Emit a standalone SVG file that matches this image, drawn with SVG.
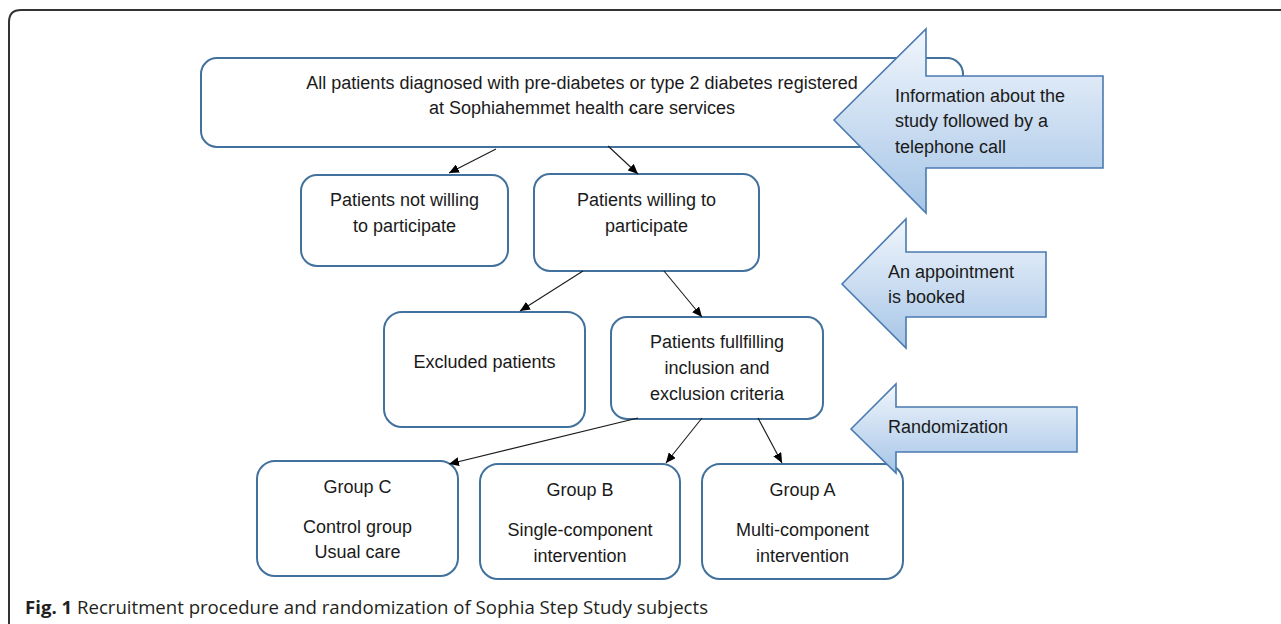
<svg xmlns="http://www.w3.org/2000/svg" width="1281" height="624" viewBox="0 0 1281 624">
<defs>
<linearGradient id="bg" x1="0" y1="0" x2="0" y2="1">
<stop offset="0" stop-color="#f1f6fc"/>
<stop offset="1" stop-color="#a6c5e7"/>
</linearGradient>
<marker id="ah" markerUnits="userSpaceOnUse" markerWidth="11" markerHeight="9" refX="10" refY="4.5" orient="auto">
<path d="M0,0 L10,4.5 L0,9 z" fill="#000"/>
</marker>
<style>
.box{fill:#fff;stroke:#41719c;stroke-width:2}
.big{fill:url(#bg);stroke:#4a7ab0;stroke-width:1.6}
.t{font-family:"Liberation Sans",Arial,sans-serif;font-size:18px;fill:#1a1a1a}
.c{text-anchor:middle}
.con{stroke:#1a1a1a;stroke-width:1.1;fill:none;marker-end:url(#ah)}
.cap{font-family:"Open Sans","Liberation Sans",sans-serif;font-size:18.6px;fill:#231f20}
</style>
</defs>
<rect width="1281" height="624" fill="#fff"/>
<path d="M9,624 V22 Q9,10 21,10 H1281" fill="none" stroke="#333" stroke-width="2"/>

<g id="n-all">
<rect class="box" x="201" y="58" width="762" height="89" rx="16"/>
<text class="t c" x="582" y="89">All patients diagnosed with pre-diabetes or type 2 diabetes registered</text>
<text class="t c" x="582" y="114">at Sophiahemmet health care services</text>
</g>
<g id="n-info">
<polygon class="big" points="834,120 926,29 926,76 1103,76 1103,168 926,168 926,213"/>
<text class="t" x="895" y="102">Information about the</text>
<text class="t" x="895" y="127">study followed by a</text>
<text class="t" x="895" y="153">telephone call</text>
</g>
<g id="n-notwilling">
<rect class="box" x="301" y="175" width="207" height="91" rx="16"/>
<text class="t c" x="404.5" y="206">Patients not willing</text>
<text class="t c" x="404.5" y="232">to participate</text>
</g>
<g id="n-willing">
<rect class="box" x="534" y="174" width="225" height="97" rx="16"/>
<text class="t c" x="646.5" y="206">Patients willing to</text>
<text class="t c" x="646.5" y="232">participate</text>
</g>
<g id="n-appt">
<polygon class="big" points="842,284 906,219 906,252 1046,252 1046,317 906,317 906,348"/>
<text class="t" x="888" y="278">An appointment</text>
<text class="t" x="888" y="303">is booked</text>
</g>
<g id="n-excluded">
<rect class="box" x="384" y="312" width="201" height="115" rx="18"/>
<text class="t c" x="484.5" y="368">Excluded patients</text>
</g>
<g id="n-fulfil">
<rect class="box" x="611" y="317" width="212" height="102" rx="16"/>
<text class="t c" x="717" y="348">Patients fullfilling</text>
<text class="t c" x="717" y="374">inclusion and</text>
<text class="t c" x="717" y="400">exclusion criteria</text>
</g>
<g id="n-groupC">
<rect class="box" x="257" y="461" width="201" height="115" rx="18"/>
<text class="t c" x="357.5" y="493">Group C</text>
<text class="t c" x="357.5" y="533">Control group</text>
<text class="t c" x="357.5" y="558">Usual care</text>
</g>
<g id="n-groupB">
<rect class="box" x="480" y="464" width="200" height="115" rx="18"/>
<text class="t c" x="580" y="496">Group B</text>
<text class="t c" x="580" y="536">Single-component</text>
<text class="t c" x="580" y="562">intervention</text>
</g>
<g id="n-groupA">
<rect class="box" x="702" y="464" width="201" height="115" rx="18"/>
<text class="t c" x="802.5" y="496">Group A</text>
<text class="t c" x="802.5" y="536">Multi-component</text>
<text class="t c" x="802.5" y="562">intervention</text>
</g>
<g id="n-random">
<polygon class="big" points="851,429 896,384 896,407 1077,407 1077,452 896,452 896,473"/>
<text class="t" x="888" y="433">Randomization</text>
</g>

<g id="connectors">
<line class="con" x1="496" y1="149" x2="449" y2="173"/>
<line class="con" x1="608" y1="146" x2="638" y2="174"/>
<line class="con" x1="583" y1="271" x2="520" y2="311"/>
<line class="con" x1="664" y1="271" x2="702" y2="317"/>
<line class="con" x1="638" y1="418" x2="449" y2="464"/>
<line class="con" x1="702" y1="418" x2="666" y2="463"/>
<line class="con" x1="758" y1="418" x2="782" y2="463"/>
</g>

<text class="cap" x="25" y="614"><tspan font-weight="bold">Fig. 1</tspan> Recruitment procedure and randomization of Sophia Step Study subjects</text>
</svg>
